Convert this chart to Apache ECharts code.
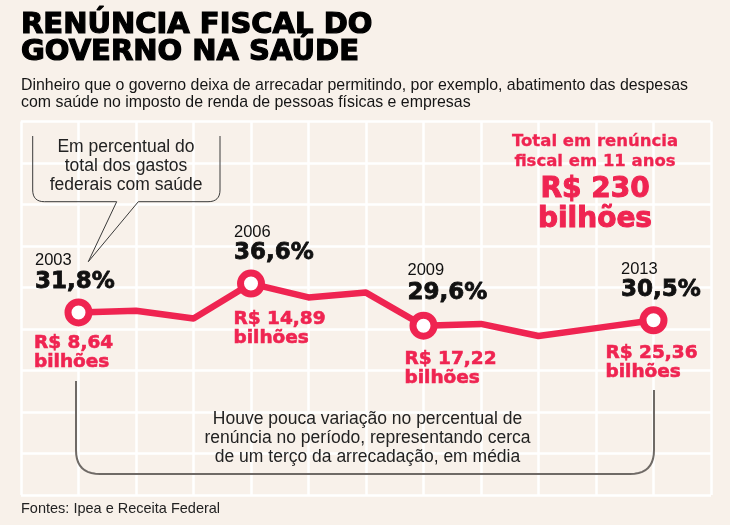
<!DOCTYPE html>
<html><head><meta charset="utf-8">
<script src="https://cdn.jsdelivr.net/npm/echarts@6/dist/echarts.min.js"></script>
<style>html,body{margin:0;padding:0;background:#f8f1ea;}#c{width:730px;height:525px;}</style>
</head><body><div id="c"></div>
<script>
// ---- data ----
const years = [2003, 2004, 2005, 2006, 2007, 2008, 2009, 2010, 2011, 2012, 2013];
const percentOfHealthSpending = [31.8, 32.1, 30.8, 36.6, 34.3, 35.1, 29.6, 29.9, 27.9, 29.2, 30.5];
const highlightYears = [2003, 2006, 2009, 2013];
const highlightPercentLabels = ['31,8%', '36,6%', '29,6%', '30,5%'];
const highlightAmountLabels = ['R$ 8,64', 'R$ 14,89', 'R$ 17,22', 'R$ 25,36'];
const totalLabel = ['Total em renúncia', 'fiscal em 11 anos'];
const totalAmount = ['R$ 230', 'bilhões'];
const titleLines = ['RENÚNCIA FISCAL DO', 'GOVERNO NA SAÚDE'];
const subtitleLines = ['Dinheiro que o governo deixa de arrecadar permitindo, por exemplo, abatimento das despesas',
  'com saúde no imposto de renda de pessoas físicas e empresas'];
const calloutLines = ['Em percentual do', 'total dos gastos', 'federais com saúde'];
const noteLines = ['Houve pouca variação no percentual de', 'renúncia no período, representando cerca', 'de um terço da arrecadação, em média'];
const sourceText = 'Fontes: Ipea e Receita Federal';

// ---- styles / layout ----
const RED = '#ef2451';
const BLACK = '#111111';
const BOLD = '"DejaVu Sans"';
const REG = '"Liberation Sans", Arial, sans-serif';

function txt(text, x, baseline, size, family, weight, color, align, heavy) {
  const style = { text: text, font: weight + ' ' + size + 'px ' + family, fill: color,
                  align: align || 'left', verticalAlign: 'middle' };
  if (heavy) { style.stroke = color; style.lineWidth = heavy; }
  return { type: 'text', x: x, y: baseline - 0.35 * size, z: 100, style: style };
}
function quad(p0, c, p1, n) {
  const pts = [];
  for (let i = 0; i <= n; i++) {
    const t = i / n, u = 1 - t;
    pts.push([u * u * p0[0] + 2 * u * t * c[0] + t * t * p1[0], u * u * p0[1] + 2 * u * t * c[1] + t * t * p1[1]]);
  }
  return pts;
}

const highlightData = highlightYears.map(y => [y, percentOfHealthSpending[years.indexOf(y)]]);

const labelPos = [
  { x: 35, yearB: 266.5, pctB: 290.5, amtX: 34, amtB: 350, bilB: 368.5 },
  { x: 234, yearB: 238.5, pctB: 261, amtX: 233.5, amtB: 326, bilB: 345 },
  { x: 407.5, yearB: 276.5, pctB: 301, amtX: 404.5, amtB: 365.5, bilB: 384.5 },
  { x: 621, yearB: 275, pctB: 298.5, amtX: 605.5, amtB: 359.5, bilB: 378.5 }
];

const graphics = [];
titleLines.forEach((l, i) => graphics.push(txt(l, 21, [36, 62.5][i], 29, BOLD, 'bold', '#000', 'left', 1.2)));
subtitleLines.forEach((l, i) => graphics.push(txt(l, 21, [91, 108.5][i], 15.9, REG, 'normal', '#151515', 'left')));
highlightYears.forEach((y, i) => {
  const p = labelPos[i];
  graphics.push(txt(String(y), p.x, p.yearB, 16.5, REG, 'normal', BLACK, 'left'));
  graphics.push(txt(highlightPercentLabels[i], p.x, p.pctB, 23, BOLD, 'bold', BLACK, 'left', 0.8));
  graphics.push(txt(highlightAmountLabels[i], p.amtX, p.amtB, 18.5, BOLD, 'bold', RED, 'left', 0.6));
  graphics.push(txt('bilhões', p.amtX, p.bilB, 18.5, BOLD, 'bold', RED, 'left', 0.6));
});
totalLabel.forEach((l, i) => graphics.push(txt(l, 595, [147.3, 167.3][i], 16.5, BOLD, 'bold', RED, 'center', 0.3)));
totalAmount.forEach((l, i) => graphics.push(txt(l, 595, [200, 230][i], 28, BOLD, 'bold', RED, 'center', 1)));
calloutLines.forEach((l, i) => graphics.push(txt(l, 126, [153.3, 172, 190.8][i], 17.5, REG, 'normal', '#222', 'center')));
noteLines.forEach((l, i) => graphics.push(txt(l, 367.5, [425.7, 444.5, 463.3][i], 17.5, REG, 'normal', '#222', 'center')));
graphics.push(txt(sourceText, 21, 514, 14.5, REG, 'normal', '#222', 'left'));

const bubble = [[32.7, 136], [32.7, 190]]
  .concat(quad([32.7, 190], [32.7, 201.7], [44.5, 201.7], 8))
  .concat([[116.7, 201.7], [88.3, 261.7], [138.3, 201.7], [208, 201.7]])
  .concat(quad([208, 201.7], [220, 201.7], [220, 190], 8))
  .concat([[220, 136]]);
graphics.push({ type: 'polyline', z: 90, shape: { points: bubble }, style: { stroke: '#3a3a3a', lineWidth: 1, fill: null } });
const bracket = [[76, 381], [76, 450]]
  .concat(quad([76, 450], [76, 474], [100, 474], 10))
  .concat([[630, 474]])
  .concat(quad([630, 474], [654, 474], [654, 450], 10))
  .concat([[654, 390]]);
graphics.push({ type: 'polyline', z: 90, shape: { points: bracket }, style: { stroke: '#6f6a66', lineWidth: 2, fill: null } });

const chart = echarts.init(document.getElementById('c'), null, { renderer: 'canvas' });
chart.setOption({
  backgroundColor: '#f8f1ea',
  animation: false,
  grid: { left: 21, right: 19, top: 121.5, bottom: 30, containLabel: false },
  xAxis: { type: 'value', min: 2002, max: 2014, interval: 1,
    axisLabel: { show: false }, axisLine: { show: false }, axisTick: { show: false },
    splitLine: { show: true, lineStyle: { color: '#ffffff', width: 2.5 } } },
  yAxis: [
    { type: 'value', min: 1.5, max: 63.5, show: false, splitLine: { show: false } },
    { type: 'value', min: 0, max: 9, interval: 1, axisLabel: { show: false }, axisLine: { show: false }, axisTick: { show: false },
      splitLine: { show: true, lineStyle: { color: '#ffffff', width: 2.5 } } }
  ],
  series: [
    { type: 'line', yAxisIndex: 0, data: years.map((y, i) => [y, percentOfHealthSpending[i]]),
      showSymbol: false, lineStyle: { color: RED, width: 6.5, join: 'round' }, z: 3 },
    { type: 'scatter', yAxisIndex: 0, data: highlightData, symbol: 'circle', symbolSize: 21,
      itemStyle: { color: '#ffffff', borderColor: RED, borderWidth: 7, opacity: 1 }, z: 4 }
  ],
  graphic: graphics
});
</script></body></html>
